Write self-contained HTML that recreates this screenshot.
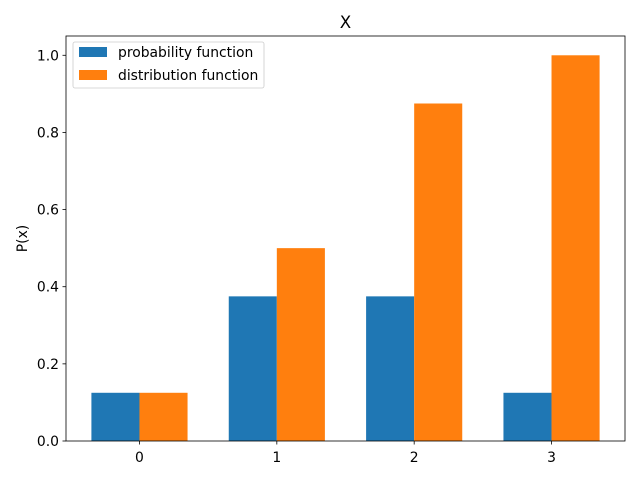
<!DOCTYPE html>
<html><head><meta charset="utf-8"><style>
body{margin:0;background:#fff;}
svg text{font-family:"DejaVu Sans","Liberation Sans",sans-serif;}
</style></head><body>
<svg id="chart" width="640" height="480">
</svg>
<script>
const categories=["0","1","2","3"];
const probValues=[0.125,0.375,0.375,0.125];
const distValues=[0.125,0.5,0.875,1.0];
const yTicks=[0.0,0.2,0.4,0.6,0.8,1.0];
const yTickLabels=["0.0","0.2","0.4","0.6","0.8","1.0"];
const NS="http://www.w3.org/2000/svg";
const svg=document.getElementById('chart');
const L=66,R=625,T=36,B=441;
const xmin=-0.535,xmax=3.535,ymin=0,ymax=1.05;
const xs=v=>L+(v-xmin)/(xmax-xmin)*(R-L);
const ys=v=>B-(v-ymin)/(ymax-ymin)*(B-T);
function mk(tag,attrs,parent){const e=document.createElementNS(NS,tag);for(const k in attrs)e.setAttribute(k,attrs[k]);(parent||svg).appendChild(e);return e;}
const w=0.35;
categories.forEach((c,i)=>{
 let b=mk('rect',{x:xs(i-w),y:ys(probValues[i]),width:xs(i)-xs(i-w),height:ys(0)-ys(probValues[i]),fill:'#1f77b4'});
 
 
 let o=mk('rect',{x:xs(i),y:ys(distValues[i]),width:xs(i+w)-xs(i),height:ys(0)-ys(distValues[i]),fill:'#ff7f0e'});
 
 
 mk('line',{x1:xs(i),x2:xs(i),y1:B,y2:B+3.5,stroke:'#000','stroke-width':0.8});
 let t=mk('text',{x:xs(i),y:B+21,'text-anchor':'middle','font-size':13.9});
 t.textContent=c;
 
 
});
yTicks.forEach((v,i)=>{
 mk('line',{x1:L-3.5,x2:L,y1:ys(v),y2:ys(v),stroke:'#000','stroke-width':0.8});
 let t=mk('text',{x:L-7,y:ys(v)+5,'text-anchor':'end','font-size':13.9});
 t.textContent=yTickLabels[i];
 
 
});
let fr=mk('rect',{x:L,y:T,width:R-L,height:B-T,fill:'none',stroke:'#000','stroke-width':0.8});


let ti=mk('text',{x:(L+R)/2,y:T-8,'text-anchor':'middle','font-size':16.7});
ti.textContent='X';


let yl=mk('text',{x:27,y:(T+B)/2,'text-anchor':'middle','font-size':13.9,transform:`rotate(-90 27 ${(T+B)/2})`});
yl.textContent='P(x)';


let lg=mk('g',{});


mk('rect',{x:73,y:42,width:191,height:46,rx:2,fill:'#fff',stroke:'#ccc','stroke-width':0.8},lg);
mk('rect',{x:79,y:47,width:28,height:10,fill:'#1f77b4'},lg);
let l1=mk('text',{x:118,y:57,'font-size':13.9},lg);l1.textContent='probability function';


mk('rect',{x:79,y:70,width:28,height:10,fill:'#ff7f0e'},lg);
let l2=mk('text',{x:118,y:80,'font-size':13.9},lg);l2.textContent='distribution function';


</script>
</body></html>
